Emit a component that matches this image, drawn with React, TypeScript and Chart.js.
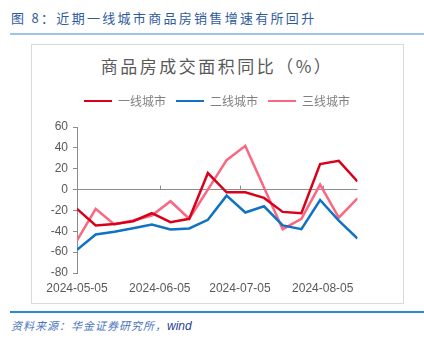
import React, { useEffect, useRef } from "react";
import { Chart, registerables } from "chart.js";

Chart.register(...registerables);

const startDate = "2024-05-05";
const weekDates = [
  "2024-05-05", "2024-05-12", "2024-05-19", "2024-05-26",
  "2024-06-02", "2024-06-09", "2024-06-16", "2024-06-23",
  "2024-06-30", "2024-07-07", "2024-07-14", "2024-07-21",
  "2024-07-28", "2024-08-04", "2024-08-11", "2024-08-18",
];
const tier1 = [-18.5, -34.4, -33, -30.3, -22.7, -31.3, -28, 15.8, -2.6, -2.6, -8, -21.4, -22.7, 24.4, 27.6, 7.8];
const tier2 = [-57.7, -43, -40.5, -37, -33.5, -38.3, -37.3, -29, -5.8, -22, -16, -34.4, -38, -10, -29.7, -47];
const tier3 = [-48.8, -18.5, -33.5, -29.7, -24.9, -11.2, -28, 0, 28.2, 41.9, 2, -38, -28, 4.7, -27, -8.4];
const seriesNames = ["一线城市", "二线城市", "三线城市"];
const seriesColors = ["#D9001B", "#0F72C4", "#FB6680"];
const xTickLabels = ["2024-05-05", "2024-06-05", "2024-07-05", "2024-08-05"];
const yMin = -80;
const yMax = 60;
const yStep = 20;

const DAY = 86400000;
const dayOffset = (d: string) => (Date.parse(d) - Date.parse(startDate)) / DAY;

const zeroTickPlugin = {
  id: "zeroTicks",
  beforeDatasetsDraw(chart: any) {
    const { ctx, scales } = chart;
    const x = scales.x;
    const y = scales.y;
    const y0 = y.getPixelForValue(0);
    ctx.save();
    ctx.strokeStyle = "#8C8C8C";
    ctx.lineWidth = 1;
    x.ticks.forEach((t: any) => {
      const px = Math.round(x.getPixelForValue(t.value)) + 0.5;
      ctx.beginPath();
      ctx.moveTo(px, y0 - 4);
      ctx.lineTo(px, y0);
      ctx.stroke();
    });
    ctx.restore();
  },
};

// adds a gap below the legend row
const legendGapPlugin = {
  id: "legendGap",
  beforeLayout(chart: any) {
    const lg = chart.legend;
    if (lg && !lg._gapPatched) {
      const orig = lg.fit.bind(lg);
      lg.fit = () => {
        orig();
        lg.height += 10;
      };
      lg._gapPatched = true;
    }
  },
};

export default function App() {
  const canvasRef = useRef<HTMLCanvasElement | null>(null);

  useEffect(() => {
    if (!canvasRef.current) return;
    const data = [tier1, tier2, tier3];
    const chart = new Chart(canvasRef.current, {
      type: "line",
      data: {
        datasets: data.map((vals, i) => ({
          label: seriesNames[i],
          data: vals.map((v, j) => ({ x: dayOffset(weekDates[j]), y: v })),
          borderColor: seriesColors[i],
          backgroundColor: seriesColors[i],
          borderWidth: 2.5,
          pointRadius: 0,
          tension: 0,
        })),
      },
      options: {
        animation: false,
        responsive: false,
        devicePixelRatio: 1,
        layout: { padding: { top: 5, right: 0, left: 0, bottom: 0 } },
        plugins: {
          legend: {
            display: true,
            position: "top",
            labels: {
              boxWidth: 28,
              boxHeight: 2,
              padding: 10,
              color: "#808080",
              font: { family: "'Noto Sans CJK SC'", size: 12 },
              generateLabels: (ch: any) =>
                Chart.defaults.plugins.legend.labels.generateLabels(ch).map((it: any) => ({ ...it, lineWidth: 0 })),
            },
          },
          title: { display: false },
          tooltip: { enabled: false },
        },
        scales: {
          x: {
            type: "linear",
            min: 0,
            max: dayOffset(weekDates[weekDates.length - 1]),
            afterBuildTicks: (scale: any) => {
              scale.ticks = xTickLabels.map((l) => ({ value: dayOffset(l) }));
            },
            afterFit: (scale: any) => {
              scale.height = 30;
            },
            ticks: {
              autoSkip: false,
              maxRotation: 0,
              padding: 8,
              color: "#595959",
              font: { family: "'Liberation Sans', Arial", size: 12 },
              callback: (v: any) => {
                const idx = xTickLabels.findIndex((l) => dayOffset(l) === v);
                return idx >= 0 ? xTickLabels[idx] : "";
              },
            },
            grid: { display: false, drawTicks: false },
            border: { display: false },
          },
          y: {
            min: yMin,
            max: yMax,
            afterFit: (scale: any) => {
              scale.width = 46;
            },
            ticks: {
              stepSize: yStep,
              padding: 5,
              color: "#595959",
              font: { family: "'Liberation Sans', Arial", size: 12 },
            },
            grid: {
              drawOnChartArea: true,
              color: (ctx: any) => (ctx.tick && ctx.tick.value === 0 ? "#8C8C8C" : "rgba(0,0,0,0)"),
              tickColor: "#8C8C8C",
              tickLength: 4,
              lineWidth: 1,
            },
            border: { display: true, color: "#8C8C8C", width: 1 },
          },
          yRightSpace: {
            position: "right",
            display: true,
            min: yMin,
            max: yMax,
            afterFit: (scale: any) => {
              scale.width = 45.5;
            },
            ticks: { display: false },
            grid: { display: false, drawTicks: false },
            border: { display: false },
          },
        },
      },
      plugins: [zeroTickPlugin, legendGapPlugin],
    } as any);
    return () => chart.destroy();
  }, []);

  return (
    <div style={{ position: "fixed", left: 0, top: 0, width: 424, height: 341, background: "#fff", overflow: "hidden" }}>
      <div style={{ position: "absolute", left: 11, top: 9, fontFamily: "'Noto Sans CJK SC'", fontSize: 13, lineHeight: "17px", color: "#2F5B9E", letterSpacing: "2.3px", whiteSpace: "nowrap" }}>
        图 8：近期一线城市商品房销售增速有所回升
      </div>
      <div style={{ position: "absolute", left: 10, top: 33, width: 414, height: 2, background: "#9CC6E6" }} />
      <div style={{ position: "absolute", left: 31, top: 44, width: 371, height: 258, border: "1px solid #DADADA" }} />
      <div style={{ position: "absolute", left: 31, width: 372, top: 55, textAlign: "center", fontFamily: "'Noto Sans CJK SC'", fontSize: 17, lineHeight: "22px", color: "#595959", letterSpacing: "2.5px", whiteSpace: "nowrap" }}>
        商品房成交面积同比（%）
      </div>
      <canvas ref={canvasRef} width={372} height={223} style={{ position: "absolute", left: 31, top: 80, width: 372, height: 223 }} />
      <div style={{ position: "absolute", left: 10, top: 311, width: 414, height: 1.5, background: "#2E8BD2" }} />
      <div style={{ position: "absolute", left: 11, top: 317, fontFamily: "'Noto Sans CJK SC'", fontStyle: "italic", fontSize: 11, lineHeight: "16px", color: "#4A74C0", letterSpacing: "1px", whiteSpace: "nowrap" }}>
        资料来源：华金证券研究所，<span style={{ fontFamily: "'Liberation Sans', Arial", fontSize: 12, color: "#1F3F99", letterSpacing: 0 }}>wind</span>
      </div>
    </div>
  );
}
